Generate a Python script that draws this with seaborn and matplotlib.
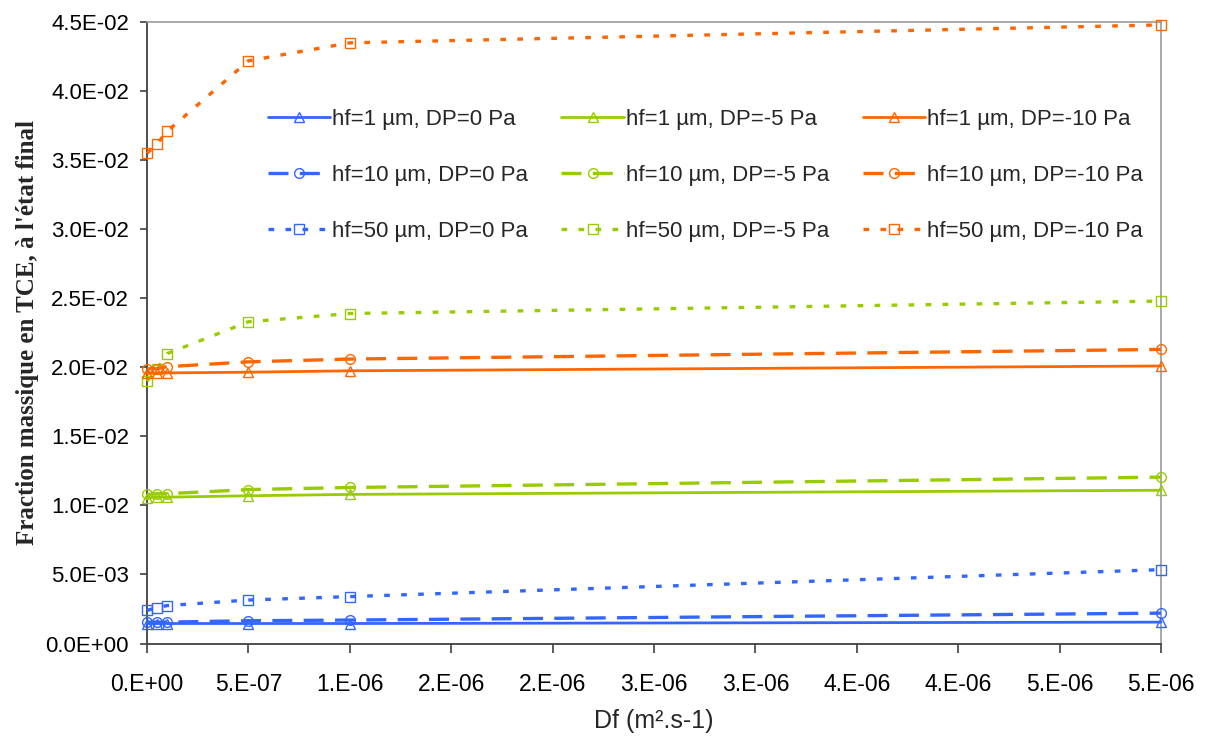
import matplotlib
matplotlib.use("Agg")
import matplotlib.pyplot as plt
import seaborn as sns
import pandas as pd

# ---- data ----
df_values = [0.0, 5e-8, 1e-7, 5e-7, 1e-6, 5e-6]

hf1_dp0 = [1.45e-3, 1.45e-3, 1.45e-3, 1.45e-3, 1.45e-3, 1.55e-3]
hf10_dp0 = [1.55e-3, 1.55e-3, 1.55e-3, 1.65e-3, 1.7e-3, 2.2e-3]
hf50_dp0 = [2.4e-3, 2.6e-3, 2.75e-3, 3.15e-3, 3.4e-3, 5.35e-3]

hf1_dp5 = [10.55e-3, 10.6e-3, 10.6e-3, 10.7e-3, 10.8e-3, 11.1e-3]
hf10_dp5 = [10.8e-3, 10.85e-3, 10.85e-3, 11.15e-3, 11.3e-3, 12.05e-3]
hf50_dp5 = [19.0e-3, 19.9e-3, 21.0e-3, 23.3e-3, 23.9e-3, 24.8e-3]

hf1_dp10 = [19.6e-3, 19.6e-3, 19.6e-3, 19.65e-3, 19.75e-3, 20.1e-3]
hf10_dp10 = [19.9e-3, 19.9e-3, 20.05e-3, 20.4e-3, 20.6e-3, 21.3e-3]
hf50_dp10 = [35.5e-3, 36.2e-3, 37.1e-3, 42.2e-3, 43.5e-3, 44.8e-3]

labels = [
    "hf=1 µm, DP=0 Pa", "hf=10 µm, DP=0 Pa", "hf=50 µm, DP=0 Pa",
    "hf=1 µm, DP=-5 Pa", "hf=10 µm, DP=-5 Pa", "hf=50 µm, DP=-5 Pa",
    "hf=1 µm, DP=-10 Pa", "hf=10 µm, DP=-10 Pa", "hf=50 µm, DP=-10 Pa",
]
series = [hf1_dp0, hf10_dp0, hf50_dp0,
          hf1_dp5, hf10_dp5, hf50_dp5,
          hf1_dp10, hf10_dp10, hf50_dp10]

x_ticks = [0, 5e-7, 1e-6, 1.5e-6, 2e-6, 2.5e-6, 3e-6, 3.5e-6, 4e-6, 4.5e-6, 5e-6]
x_tick_labels = ["0.E+00", "5.E-07", "1.E-06", "2.E-06", "2.E-06", "3.E-06",
                 "3.E-06", "4.E-06", "4.E-06", "5.E-06", "5.E-06"]
y_ticks = [0, 5e-3, 1e-2, 1.5e-2, 2e-2, 2.5e-2, 3e-2, 3.5e-2, 4e-2, 4.5e-2]
y_tick_labels = ["0.0E+00", "5.0E-03", "1.0E-02", "1.5E-02", "2.0E-02",
                 "2.5E-02", "3.0E-02", "3.5E-02", "4.0E-02", "4.5E-02"]

# ---- styles ----
colors = ["#3366FF"] * 3 + ["#99CC00"] * 3 + ["#FF6600"] * 3
markers = ["^", "o", "s"] * 3
styles = ["-", (0, (6.0, 3.4)), (0, (1.7, 3.4))] * 3
widths = [2.0, 2.4, 2.4] * 3

sns.set_theme(style="white")
plt.rcParams["font.family"] = ["Liberation Sans", "DejaVu Sans"]

fig = plt.figure(figsize=(12.05, 7.38), dpi=100)
ax = fig.add_axes([0.122, 0.128, 0.8415, 0.842])

for i, (lab, vals) in enumerate(zip(labels, series)):
    d = pd.DataFrame({"x": df_values, "y": vals})
    sns.lineplot(data=d, x="x", y="y", ax=ax, color=colors[i],
                 linestyle=styles[i], linewidth=widths[i], marker=markers[i],
                 markersize=8.5, markerfacecolor="none",
                 markeredgecolor=colors[i], markeredgewidth=1.0,
                 label=lab, clip_on=False, zorder=3)

ax.set_xlim(0, 5e-6)
ax.set_ylim(0, 0.045)
ax.set_xticks(x_ticks)
ax.set_xticklabels(x_tick_labels, fontsize=16.5)
ax.set_yticks(y_ticks)
ax.set_yticklabels(y_tick_labels, fontsize=16)
ax.tick_params(axis="both", which="both", direction="out",
               width=1.2, color="#404040", labelcolor="black")
ax.tick_params(axis="x", bottom=True, length=6.5, pad=15)
ax.tick_params(axis="y", left=True, length=5, pad=8)

for s in ["top", "right"]:
    ax.spines[s].set_color("#999999")
    ax.spines[s].set_linewidth(1.2)
for s in ["left", "bottom"]:
    ax.spines[s].set_color("#404040")
    ax.spines[s].set_linewidth(1.3)

ax.set_xlabel("Df (m².s-1)", fontsize=18, labelpad=9)
ax.set_ylabel("Fraction massique en TCE, à l'état final", fontsize=18,
              fontweight="bold", family=["Liberation Serif", "DejaVu Serif"],
              labelpad=5)

h, l = ax.get_legend_handles_labels()
for hd in h:
    hd.set_markersize(7)
leg = ax.legend(h, l, ncol=3, loc="upper left", bbox_to_anchor=(0.119, 0.861),
                frameon=False, fontsize=16, handlelength=2.8, handletextpad=0.1,
                labelspacing=1.58, columnspacing=1.5, borderpad=0, borderaxespad=0)

fig.savefig("out.png", dpi=100)
